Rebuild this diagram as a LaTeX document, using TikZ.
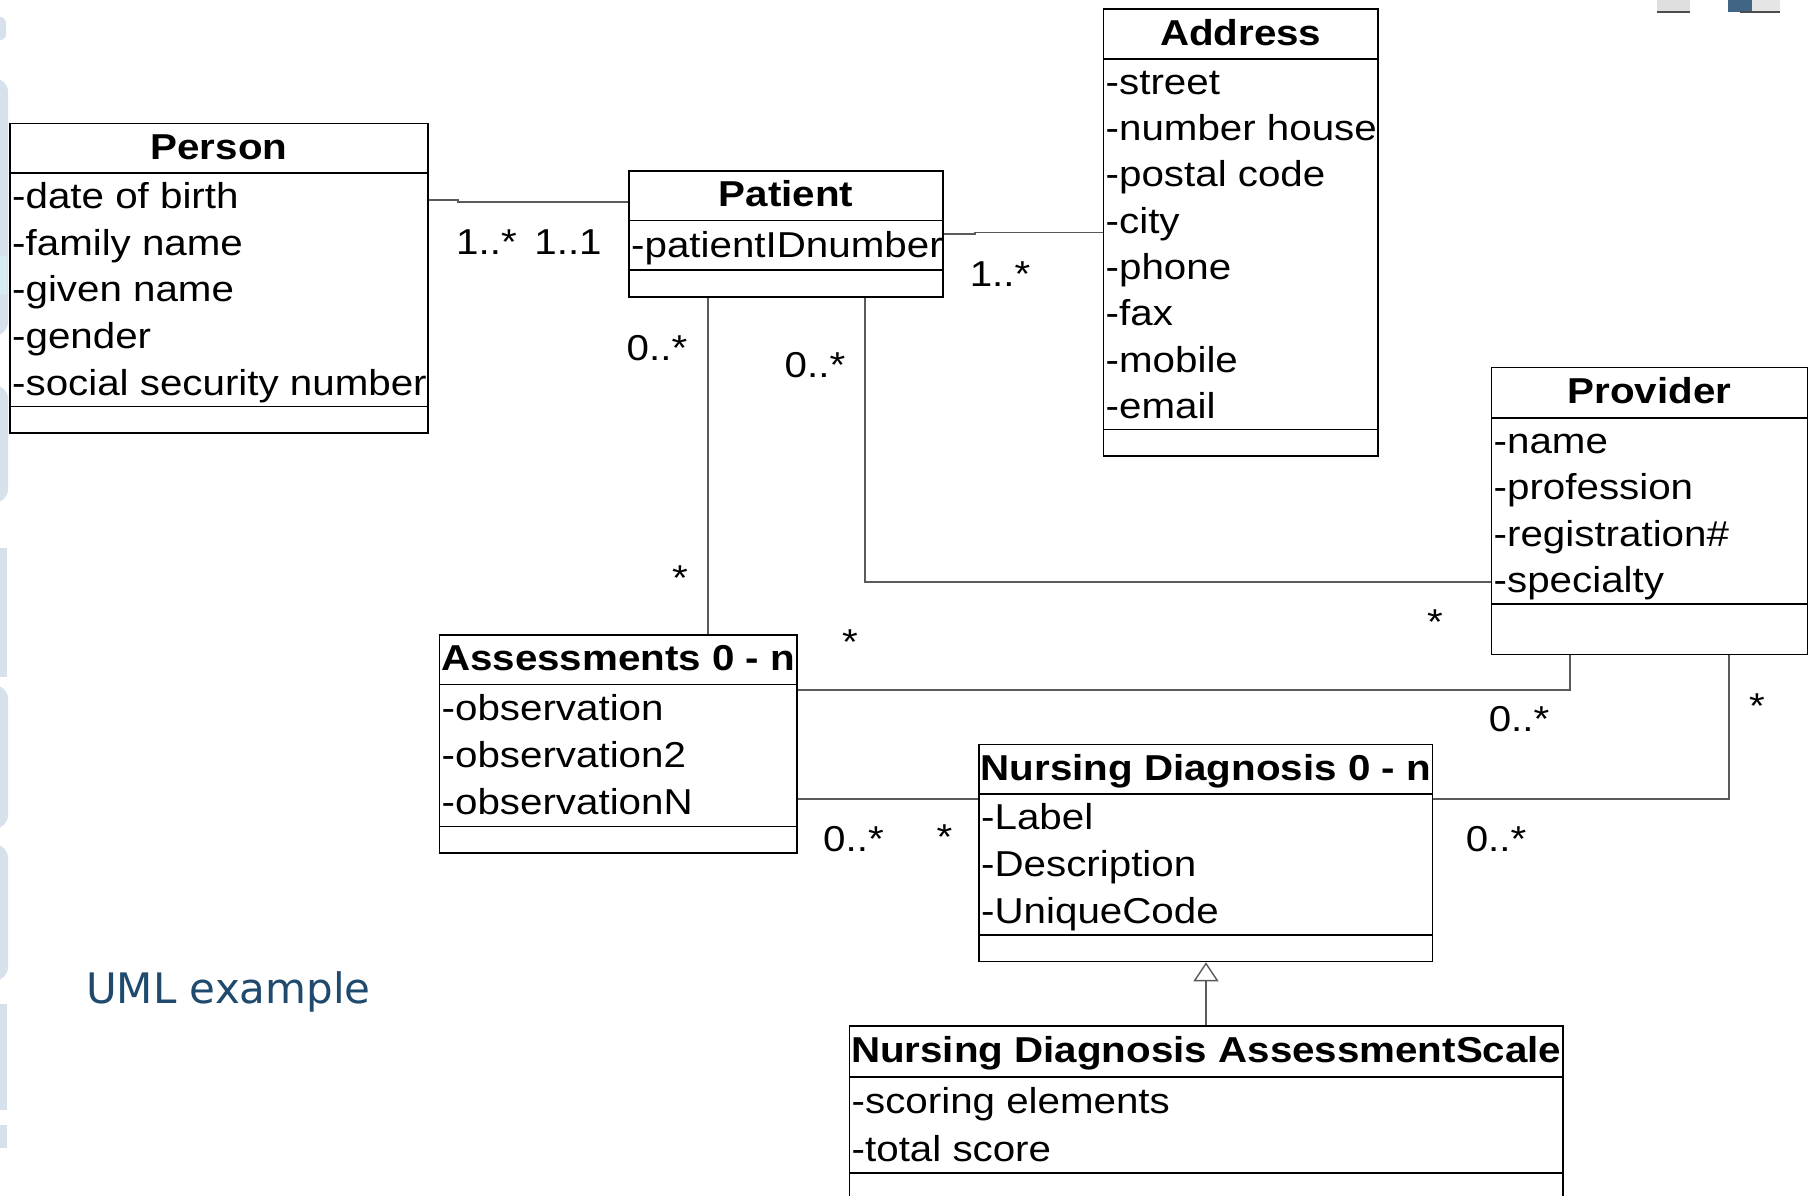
\documentclass[tikz,border=0pt]{standalone}
\usepackage{fontspec}
\setmainfont{Liberation Sans}[FakeStretch=1.12]
\newfontfamily\notefont{DejaVu Sans}
\usetikzlibrary{fit,calc,arrows.meta}

\definecolor{wire}{HTML}{5A5A5A}
\definecolor{notecolor}{HTML}{1F4A6E}
\definecolor{wmark}{HTML}{D6E1EB}
\definecolor{wmarkteal}{HTML}{D6ECF2}

\tikzset{
  classbox/.style={draw=black, line width=1.6pt, inner sep=0pt, fill=white},
  sepline/.style={draw=black, line width=1.6pt},
  titletext/.style={anchor=base, inner sep=0pt, font=\fontsize{36}{40}\selectfont\bfseries},
  attrtext/.style={anchor=base west, inner sep=0pt, font=\fontsize{36}{40}\selectfont},
  mult/.style={anchor=base, inner sep=0pt, font=\fontsize{36}{40}\selectfont},
  assoc/.style={draw=wire, line width=1.4pt},
}

% #1 name, #2 left, #3 top, #4 right, #5 bottom,
% #6 title rule, #7 attribute rule, #8 title, #9 attribute list
\newcommand\umlclass[9]{%
  \coordinate (#1-nw) at (#2,#3);
  \coordinate (#1-se) at (#4,#5);
  \node[classbox, fit=(#1-nw)(#1-se)] (#1) {};
  \draw[sepline] (#2,#6) -- (#4,#6);
  \draw[sepline] (#2,#7) -- (#4,#7);
  \node[titletext] (#1-title) at ({(#2+#4)/2},{(#3+#6)/2+11}) {#8};
  \foreach \txt [count=\n] in {#9} {\xdef\nrows{\n}}
  \pgfmathsetmacro\rowpitch{(#7-#6)/\nrows}
  \foreach \txt [count=\i] in {#9} {
    \node[attrtext] (#1-a\i) at ({#2+2},{#6+(\i-0.5)*\rowpitch+12}) {\txt};
  }
}

\begin{document}
\begin{tikzpicture}[x=1pt,y=-1pt]
\useasboundingbox (0,0) rectangle (1810,1195);
\clip (0,0) rectangle (1810,1195);
\fill[white] (0,0) rectangle (1810,1195);

% faint lettering along the left edge
\begin{scope}[fill=wmark]
  \fill[rounded corners=6pt] (-40,17) rectangle (6,40);
  \fill[rounded corners=14pt] (-40,78) rectangle (8,336);
  \fill[wmarkteal] (-40,256) rectangle (7,294);
  \fill[rounded corners=14pt] (-40,385) rectangle (8,503);
  \fill (-40,548) rectangle (7,677);
  \fill[rounded corners=14pt] (-40,685) rectangle (8,829);
  \fill[rounded corners=14pt] (-40,844) rectangle (8,981);
  \fill (-40,1004) rectangle (7,1110);
  \fill (-40,1125) rectangle (7,1148);
\end{scope}

% logo fragments in the top right corner
\fill[gray!25] (1657,-5) rectangle (1690,12);
\draw[gray!60!black, line width=2pt] (1657,12) -- (1690,12);
\fill[notecolor!85] (1728,-5) rectangle (1752,12);
\fill[gray!20] (1752,-5) rectangle (1780,11);
\draw[gray!60!black, line width=1.5pt] (1740,12) -- (1780,12);

% classes
\umlclass{person}{10}{123.5}{428}{433}{173}{406.5}{Person}
  {-date of birth,-family name,-given name,-gender,-social security number}
\umlclass{patient}{629}{171}{943}{297}{220.5}{270}{Patient}
  {-patientIDnumber}
\umlclass{address}{1103.5}{9}{1378}{456}{59}{429.5}{Address}
  {-street,-number house,-postal code,-city,-phone,-fax,-mobile,-email}
\umlclass{provider}{1491.5}{367.5}{1807.5}{654.5}{418}{604}{Provider}
  {-name,-profession,-registration\#,-specialty}
\umlclass{assess}{439.5}{635}{797}{853}{684.5}{826.5}{Assessments 0 - n}
  {-observation,-observation2,-observationN}
\umlclass{nd}{979}{744.5}{1432.5}{961.5}{794}{935}{Nursing Diagnosis 0 - n}
  {-Label,-Description,-UniqueCode}
\umlclass{ndas}{849.5}{1026}{1563}{1230}{1077}{1173}{Nursing Diagnosis AssessmentScale}
  {-scoring elements,-total score}

% associations
\draw[assoc] (person.east |- 0,200) -- (458,200) -- (458,202) -- (patient.west |- 0,202);
\draw[assoc] (patient.east |- 0,234) -- (975,234) -- (975,232.5) -- (address.west |- 0,232.5);
\draw[assoc] (patient.south -| 708,0) -- (assess.north -| 708,0);
\draw[assoc] (patient.south -| 865,0) -- (865,582) -- (provider.west |- 0,582);
\draw[assoc] (assess.east |- 0,690) -- (1570,690) -- (provider.south -| 1570,0);
\draw[assoc] (assess.east |- 0,799) -- (nd.west |- 0,799);
\draw[assoc] (nd.east |- 0,799) -- (1729,799) -- (provider.south -| 1729,0);

% generalization
\draw[assoc, -{Triangle[open, length=19pt, width=25pt, line width=1.4pt]}]
  (ndas.north -| 1206,0) -- (nd.south -| 1206,0);

% multiplicities
\node[mult] (m1) at (486.5,254) {1..*};
\node[mult] (m2) at (568,254) {1..1};
\node[mult] (m3) at (1000,286.5) {1..*};
\node[mult] (m4) at (657,360.5) {0..*};
\node[mult] (m5) at (815,377) {0..*};
\node[mult] (m6) at (680,590.5) {*};
\node[mult] (m7) at (850,654.5) {*};
\node[mult] (m8) at (1435,634) {*};
\node[mult] (m9) at (1519,731.5) {0..*};
\node[mult] (m10) at (1757,718) {*};
\node[mult] (m11) at (853.5,851.5) {0..*};
\node[mult] (m12) at (944.5,849) {*};
\node[mult] (m13) at (1496,851.5) {0..*};

% caption
\node[anchor=base west, inner sep=0pt, text=notecolor,
      font=\notefont\fontsize{42}{46}\selectfont] (caption) at (86,1003) {UML example};
\end{tikzpicture}
\end{document}
